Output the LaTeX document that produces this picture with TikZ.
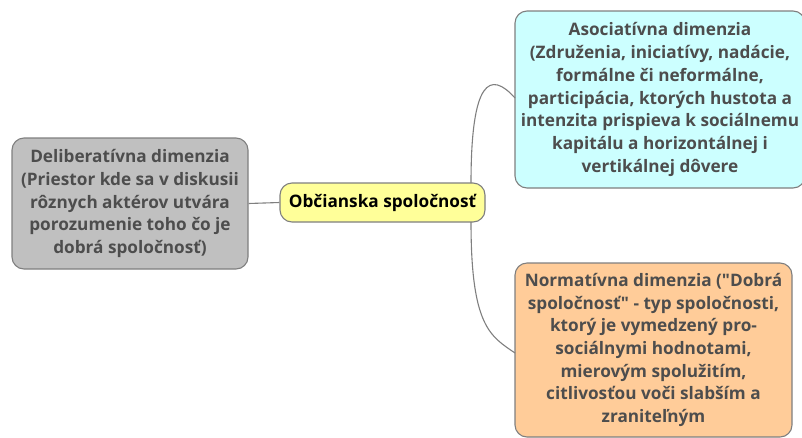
\documentclass[tikz,border=0pt]{standalone}
\usepackage{fontspec}
\setmainfont{Open Sans}[Ligatures=TeXOff]
\definecolor{txt}{HTML}{4D4D4D}
\definecolor{bord}{HTML}{7F7F7F}
\definecolor{cyanf}{HTML}{CCFFFF}
\definecolor{orangef}{HTML}{FFCC99}
\definecolor{grayf}{HTML}{C0C0C0}
\definecolor{yellowf}{HTML}{FFFF99}
\begin{document}
\begin{tikzpicture}[x=1pt,y=-1pt,
  topic/.style={draw=bord,line width=1.1pt,rounded corners=12pt,align=center,
    font=\fontsize{17.2}{22.7}\selectfont\bfseries,text=txt,inner sep=0pt},
  link/.style={draw=bord,line width=1.1pt}]
\useasboundingbox (0,0) rectangle (802,437);
\clip (0,0) rectangle (802,437);
\node[topic,fill=cyanf,minimum width=290pt,minimum height=177pt] (asoc) at (660,99.5)
  {Asociatívna dimenzia\\(Združenia, iniciatívy, nadácie,\\formálne či neformálne,\\participácia, ktorých hustota a\\intenzita prispieva k sociálnemu\\kapitálu a horizontálnej i\\vertikálnej dôvere};
\node[topic,fill=orangef,minimum width=277pt,minimum height=174pt] (norm) at (653.5,350)
  {Normatívna dimenzia ("Dobrá\\spoločnosť" - typ spoločnosti,\\ktorý je vymedzený pro-\\sociálnymi hodnotami,\\mierovým spolužitím,\\citlivosťou voči slabším a\\zraniteľným};
\node[topic,fill=grayf,minimum width=236pt,minimum height=131pt] (delib) at (130,203.5)
  {Deliberatívna dimenzia\\(Priestor kde sa v diskusii\\rôznych aktérov utvára\\porozumenie toho čo je\\dobrá spoločnosť)};
\node[topic,fill=yellowf,text=black,minimum width=205pt,minimum height=39pt] (civ) at (382.5,202.5)
  {Občianska spoločnosť};
\coordinate (ct) at (471,183);
\coordinate (cb) at (471,222);
\coordinate (at) at (515,98);
\coordinate (nb) at (515,353);
\draw[link] (delib.east) -- (civ.west);
\draw[link] (ct) .. controls (471,80) and (490,70) .. (at);
\draw[link] (cb) .. controls (471,326) and (490,336) .. (nb);
\end{tikzpicture}
\end{document}
